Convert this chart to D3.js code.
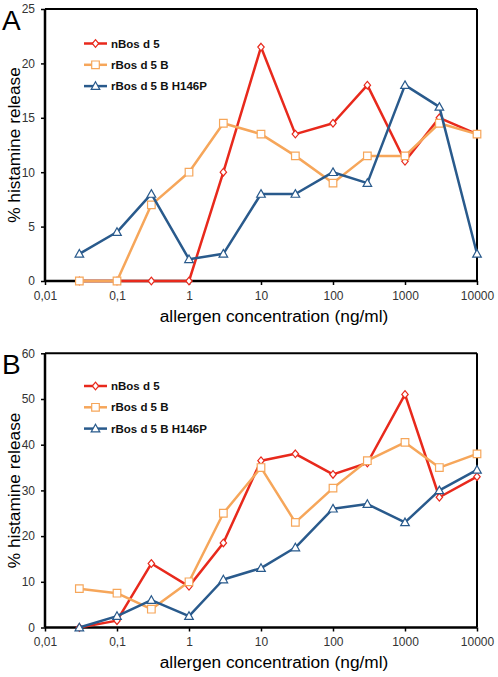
<!DOCTYPE html>
<html><head><meta charset="utf-8">
<script src="https://cdn.jsdelivr.net/npm/d3@7/dist/d3.min.js"></script>
<style>body{margin:0;background:#fff}svg{display:block}</style>
</head><body>
<svg id="chart" width="498" height="677"></svg>
<script>
const concentrations = [0.03, 0.1, 0.3, 1, 3, 10, 30, 100, 300, 1000, 3000, 10000];
const xTickValues = [0.01, 0.1, 1, 10, 100, 1000, 10000];
const xTickLabels = ["0,01", "0,1", "1", "10", "100", "1000", "10000"];
const seriesNames = ["nBos d 5", "rBos d 5 B", "rBos d 5 B H146P"];
const seriesColors = ["#e8291c", "#f6a65a", "#295a8c"];
const seriesMarkers = ["diamond", "square", "triangle"];

const panelA_nBos = [0, 0, 0, 0, 10, 21.5, 13.5, 14.5, 18, 11, 15, 13.5];
const panelA_rBos = [0, 0, 7, 10, 14.5, 13.5, 11.5, 9, 11.5, 11.5, 14.5, 13.5];
const panelA_H146P = [2.5, 4.5, 8, 2, 2.5, 8, 8, 10, 9, 18, 16, 2.5];
const panelA_yTicks = [0, 5, 10, 15, 20, 25];

const panelB_nBos = [0, 1.5, 14, 9, 18.5, 36.5, 38, 33.5, 36, 51, 28.5, 33];
const panelB_rBos = [8.5, 7.5, 4, 10, 25, 35, 23, 30.5, 36.5, 40.5, 35, 38];
const panelB_H146P = [0, 2.5, 6, 2.5, 10.5, 13, 17.5, 26, 27, 23, 30, 34.5];
const panelB_yTicks = [0, 10, 20, 30, 40, 50, 60];

const svg = d3.select("#chart");
const FONT = "'Liberation Sans', Arial, Helvetica, sans-serif";

function markerPath(type) {
  if (type === "diamond") return "M0,-3.8L3.2,0L0,3.8L-3.2,0Z";
  if (type === "square") return "M-3.8,-3.8H3.8V3.8H-3.8Z";
  return "M0,-4.3L4.3,3.3H-4.3Z";
}

function drawPanel(cfg) {
  const g = svg.append("g");
  const x = d3.scaleLog().domain([0.01, 10000]).range([45, 477]);
  const y = d3.scaleLinear().domain([0, cfg.yMax]).range([cfg.bottom, cfg.top]);

  // frame top & right
  g.append("line").attr("x1", x(0.01)).attr("x2", x(10000)).attr("y1", y(cfg.yMax)).attr("y2", y(cfg.yMax))
    .attr("stroke", "#000").attr("stroke-width", 2);
  g.append("line").attr("x1", x(10000)).attr("x2", x(10000)).attr("y1", y(cfg.yMax)).attr("y2", y(0))
    .attr("stroke", "#000").attr("stroke-width", 2);

  // axes
  const yAxis = d3.axisLeft(y).tickValues(cfg.yTicks).tickSize(4).tickPadding(6).tickFormat(d3.format("d"));
  const ya = g.append("g").attr("transform", `translate(${x(0.01)},0)`).call(yAxis);
  ya.select(".domain").attr("stroke", "#000").attr("stroke-width", 2.5).attr("d", `M0,${y(0)}V${y(cfg.yMax)}`);
  ya.selectAll(".tick line").attr("stroke", "#000").attr("stroke-width", 1.5);
  ya.selectAll(".tick text").attr("font-family", FONT).attr("font-size", 12).attr("fill", "#333");

  const xAxis = d3.axisBottom(x).tickValues(xTickValues).tickSize(4).tickPadding(6)
    .tickFormat((d, i) => xTickLabels[i]);
  const xa = g.append("g").attr("transform", `translate(0,${y(0)})`).call(xAxis);
  xa.select(".domain").attr("stroke", "#000").attr("stroke-width", 2.5).attr("d", `M${x(0.01)},0H${x(10000)}`);
  xa.selectAll(".tick line").attr("stroke", "#000").attr("stroke-width", 1.5);
  xa.selectAll(".tick text").attr("font-family", FONT).attr("font-size", 12).attr("fill", "#333");

  // series
  const line = d3.line().x((d, i) => x(concentrations[i])).y(d => y(d));
  cfg.series.forEach((vals, si) => {
    g.append("path").attr("d", line(vals)).attr("fill", "none")
      .attr("stroke", seriesColors[si]).attr("stroke-width", 2.5).attr("stroke-linejoin", "round");
    g.selectAll(null).data(vals).enter().append("path")
      .attr("d", markerPath(seriesMarkers[si]))
      .attr("transform", (d, i) => `translate(${x(concentrations[i])},${y(d)})`)
      .attr("fill", "#fff").attr("stroke", seriesColors[si]).attr("stroke-width", 1.2);
  });

  // legend
  seriesNames.forEach((name, si) => {
    const ly = cfg.legendTop + si * 21.3;
    g.append("line").attr("x1", 84).attr("x2", 107).attr("y1", ly).attr("y2", ly)
      .attr("stroke", seriesColors[si]).attr("stroke-width", 2.5);
    g.append("path").attr("d", markerPath(seriesMarkers[si]))
      .attr("transform", `translate(95.5,${ly})`)
      .attr("fill", "#fff").attr("stroke", seriesColors[si]).attr("stroke-width", 1.2);
    g.append("text").attr("x", 111).attr("y", ly).attr("dy", "0.36em")
      .attr("font-family", FONT).attr("font-size", 11.5).attr("font-weight", "bold").attr("fill", "#111")
      .text(name);
  });

  // panel letter
  g.append("text").attr("x", 2).attr("y", cfg.top + 20.5).attr("font-family", FONT)
    .attr("font-size", 28).attr("fill", "#000").text(cfg.letter);

  // axis titles
  g.append("text").attr("transform", `translate(19.5,${(cfg.top + cfg.bottom) / 2}) rotate(-90)`)
    .attr("text-anchor", "middle").attr("font-family", FONT).attr("font-size", 17.3).attr("fill", "#000")
    .text("% histamine release");
  g.append("text").attr("x", 274).attr("y", cfg.bottom + 40.5).attr("text-anchor", "middle")
    .attr("font-family", FONT).attr("font-size", 17.3).attr("fill", "#000")
    .text("allergen concentration (ng/ml)");
}

drawPanel({letter: "A", yMax: 25, yTicks: panelA_yTicks, top: 9, bottom: 281,
  series: [panelA_nBos, panelA_rBos, panelA_H146P], legendTop: 43.5});
drawPanel({letter: "B", yMax: 60, yTicks: panelB_yTicks, top: 353.3, bottom: 627.5,
  series: [panelB_nBos, panelB_rBos, panelB_H146P], legendTop: 386});
</script>
</body></html>
